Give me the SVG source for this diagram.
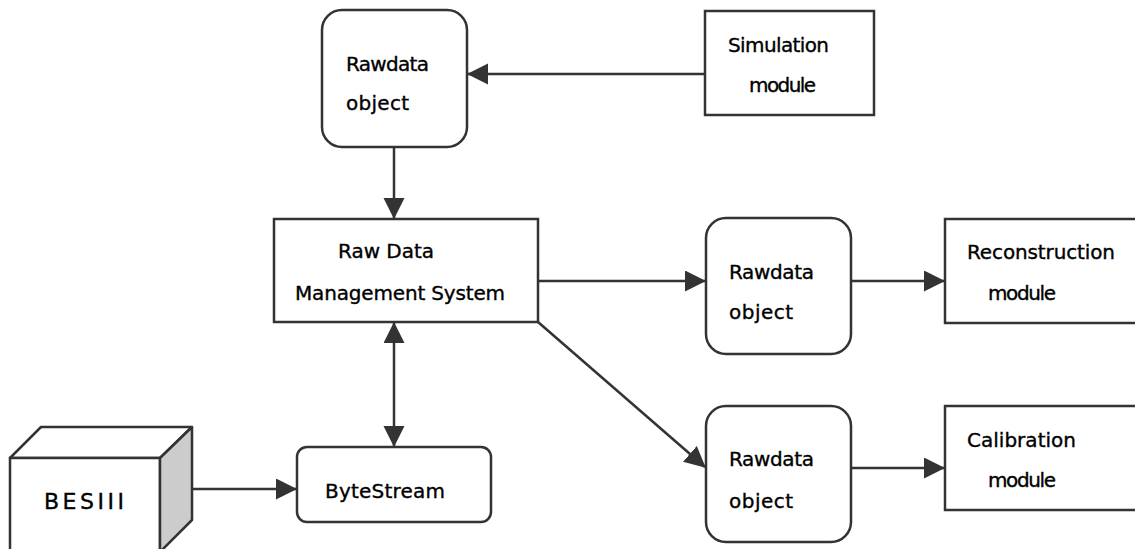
<svg xmlns="http://www.w3.org/2000/svg" width="1135" height="549" viewBox="0 0 1135 549">
<style>
.box{fill:#fff;stroke:#333;stroke-width:2.5}
.side{fill:#ccc;stroke:#333;stroke-width:2.5;stroke-linejoin:round}
.t{font-family:"DejaVu Sans","Liberation Sans",Arial,sans-serif;font-size:20px;fill:#000;stroke:#000;stroke-width:0.35}
.c{stroke:#333;stroke-width:2.5;fill:none}
</style>
<defs>
<marker id="ah" markerUnits="userSpaceOnUse" markerWidth="22" markerHeight="22" refX="20" refY="10.5" orient="auto-start-reverse" viewBox="0 0 22 22">
<path d="M0,0 L21,10.5 L0,21 z" fill="#333"/>
</marker>
</defs>
<rect width="1135" height="549" fill="#fff"/>
<g id="connectors">
<line class="c" x1="705" y1="74" x2="468" y2="74" marker-end="url(#ah)"/>
<line class="c" x1="394" y1="147" x2="394" y2="218" marker-end="url(#ah)"/>
<line class="c" x1="394" y1="323" x2="394" y2="446" marker-start="url(#ah)" marker-end="url(#ah)"/>
<line class="c" x1="192" y1="489" x2="296" y2="489" marker-end="url(#ah)"/>
<line class="c" x1="538" y1="281" x2="705" y2="281" marker-end="url(#ah)"/>
<line class="c" x1="851" y1="281" x2="944" y2="281" marker-end="url(#ah)"/>
<line class="c" x1="538" y1="322" x2="705" y2="467" marker-end="url(#ah)"/>
<line class="c" x1="851" y1="468" x2="944" y2="468" marker-end="url(#ah)"/>
</g>
<g id="rawdata-top">
<rect class="box" x="322" y="10" width="145" height="137" rx="20"/>
<text class="t" x="346" y="71" textLength="83" lengthAdjust="spacing">Rawdata</text>
<text class="t" x="346" y="110" textLength="63" lengthAdjust="spacing">object</text>
</g>
<g id="simulation">
<rect class="box" x="705" y="11" width="169" height="104"/>
<text class="t" x="728" y="52" textLength="101" lengthAdjust="spacing">Simulation</text>
<text class="t" x="749" y="92" textLength="67" lengthAdjust="spacing">module</text>
</g>
<g id="rdms">
<rect class="box" x="274" y="219" width="264" height="103"/>
<text class="t" x="338" y="258" textLength="96" lengthAdjust="spacing">Raw Data</text>
<text class="t" x="295" y="300" textLength="210" lengthAdjust="spacing">Management System</text>
</g>
<g id="rawdata-mid">
<rect class="box" x="706" y="218" width="145" height="136" rx="20"/>
<text class="t" x="729" y="279" textLength="85" lengthAdjust="spacing">Rawdata</text>
<text class="t" x="729" y="319" textLength="64" lengthAdjust="spacing">object</text>
</g>
<g id="reconstruction">
<rect class="box" x="945" y="219" width="200" height="104"/>
<text class="t" x="967" y="259" textLength="148" lengthAdjust="spacing">Reconstruction</text>
<text class="t" x="988" y="300" textLength="68" lengthAdjust="spacing">module</text>
</g>
<g id="rawdata-bottom">
<rect class="box" x="706" y="406" width="145" height="136" rx="20"/>
<text class="t" x="729" y="466" textLength="85" lengthAdjust="spacing">Rawdata</text>
<text class="t" x="729" y="508" textLength="64" lengthAdjust="spacing">object</text>
</g>
<g id="calibration">
<rect class="box" x="945" y="406" width="200" height="104"/>
<text class="t" x="967" y="447" textLength="109" lengthAdjust="spacing">Calibration</text>
<text class="t" x="988" y="487" textLength="68" lengthAdjust="spacing">module</text>
</g>
<g id="bytestream">
<rect class="box" x="297" y="447" width="194" height="75" rx="10"/>
<text class="t" x="325" y="498" textLength="120" lengthAdjust="spacing">ByteStream</text>
</g>
<g id="besiii">
<polygon class="box" points="10,458 41,427 192,427 160,458" style="stroke-linejoin:round"/>
<rect class="box" x="10" y="458" width="150" height="110"/>
<polygon class="side" points="160,458 192,427 192,520 160,552"/>
<text class="t" x="44" y="509" textLength="80" lengthAdjust="spacing" style="font-size:22px">BESIII</text>
</g>
</svg>
